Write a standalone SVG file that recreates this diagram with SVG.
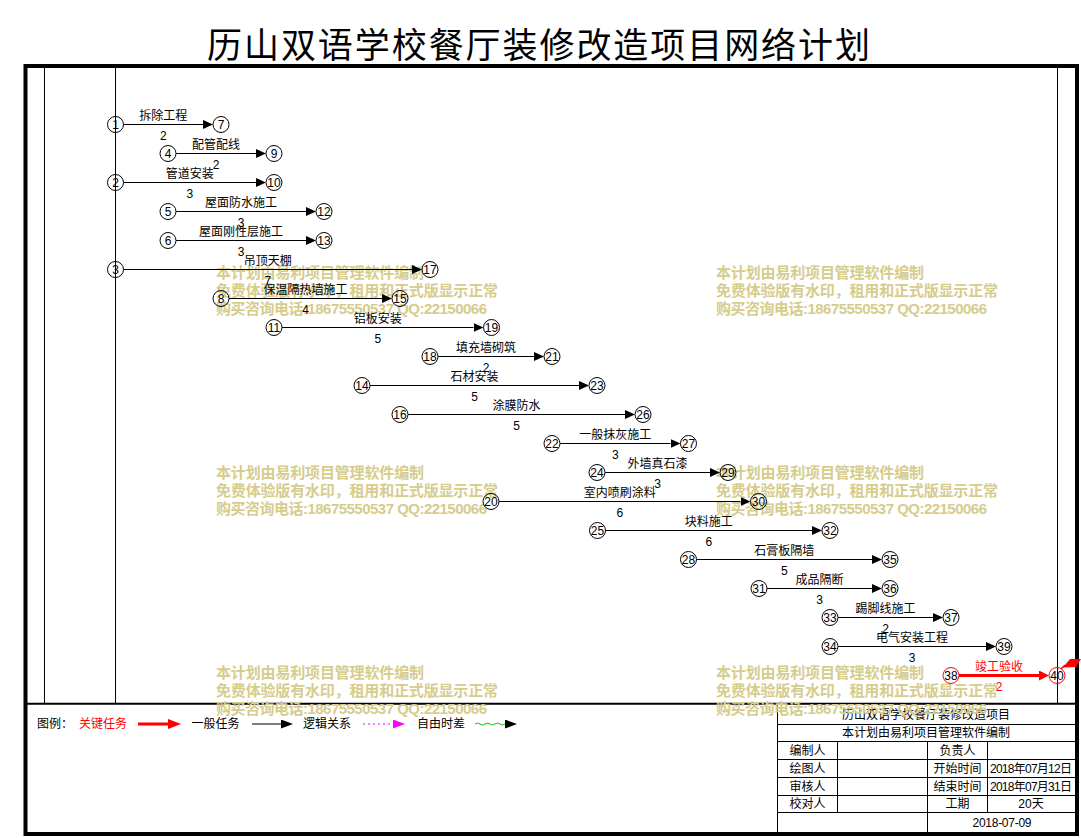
<svg xmlns="http://www.w3.org/2000/svg" width="1081" height="838" viewBox="0 0 1081 838">
<style>
text{font-family:"Liberation Sans","Noto Sans CJK SC",sans-serif;font-size:12px;fill:#000}
.title{font-family:"Noto Sans CJK SC",sans-serif;font-size:35px}
.wm{font-family:"Liberation Sans","Noto Sans CJK SC",sans-serif;font-size:15px;font-weight:bold;fill:#D6CC8C}
.m{text-anchor:middle}
.thin{stroke:#000;stroke-width:1;fill:none}
.node circle{fill:none;stroke:#000;stroke-width:1}
.node text{text-anchor:middle}
.crit circle{stroke:#FF0000}
.edge{stroke:#000;stroke-width:1;fill:none;marker-end:url(#ah)}
.edge-crit{stroke:#FF0000;stroke-width:3;fill:none;marker-end:url(#ahr)}
.red{fill:#FF0000}
</style>
<defs>
<marker id="ah" viewBox="0 0 10 9" refX="0" refY="4.5" markerWidth="10" markerHeight="9" markerUnits="userSpaceOnUse" orient="0"><path d="M0,0 L10,4.5 L0,9 Z" fill="#000"/></marker>
<marker id="ahr" viewBox="0 0 10 10" refX="0" refY="5" markerWidth="10" markerHeight="10" markerUnits="userSpaceOnUse" orient="0"><path d="M0,0 L10,5 L0,10 Z" fill="#FF0000"/></marker>
<marker id="ahl" viewBox="0 0 13 10" refX="0" refY="5" markerWidth="13" markerHeight="10" markerUnits="userSpaceOnUse" orient="0"><path d="M0,0 L13,5 L0,10 Z" fill="#FF0000"/></marker>
<marker id="ahm" viewBox="0 0 12 9" refX="0" refY="4.5" markerWidth="12" markerHeight="9" markerUnits="userSpaceOnUse" orient="0"><path d="M0,0 L12,4.5 L0,9 Z" fill="#FF00FF"/></marker>
<marker id="ahk" viewBox="0 0 12 9" refX="0" refY="4.5" markerWidth="12" markerHeight="9" markerUnits="userSpaceOnUse" orient="0"><path d="M0,0 L12,4.5 L0,9 Z" fill="#000"/></marker>
</defs>
<rect width="1081" height="838" fill="#fff"/>
<text class="title m" x="538.5" y="58" textLength="663">历山双语学校餐厅装修改造项目网络计划</text>

<g id="frame">
<rect x="25.5" y="66" width="1051.5" height="768" fill="none" stroke="#000" stroke-width="4"/>
<line class="thin" x1="44.5" y1="68" x2="44.5" y2="703"/>
<line class="thin" x1="115.5" y1="68" x2="115.5" y2="703"/>
<line class="thin" x1="1057.5" y1="68" x2="1057.5" y2="703"/>
<line x1="27" y1="703.8" x2="1075" y2="703.8" stroke="#000" stroke-width="2"/>
</g>

<g id="legend">
<text x="37" y="727.5">图例：</text>
<text x="79" y="727.5" class="red">关键任务</text>
<line x1="138" y1="724" x2="168" y2="724" stroke="#FF0000" stroke-width="3" marker-end="url(#ahl)"/>
<text x="191.5" y="727.5">一般任务</text>
<line x1="252" y1="724" x2="281" y2="724" stroke="#000" stroke-width="1" marker-end="url(#ahk)"/>
<text x="303" y="727.5">逻辑关系</text>
<line x1="363" y1="724" x2="393" y2="724" stroke="#FF00FF" stroke-width="1" stroke-dasharray="2,3" marker-end="url(#ahm)"/>
<text x="417" y="727.5">自由时差</text>
<path d="M475,724 q2.5,-2 5,0 t5,0 t5,0 t5,0 t5,0 t5,0" fill="none" stroke="#00CC00" stroke-width="1" marker-end="url(#ahk)"/>
</g>

<g id="title-block">
<line class="thin" x1="777.5" y1="704" x2="777.5" y2="832"/>
<line class="thin" x1="777" y1="724.5" x2="1075" y2="724.5"/>
<line class="thin" x1="777" y1="741.5" x2="1075" y2="741.5"/>
<line class="thin" x1="777" y1="759.5" x2="1075" y2="759.5"/>
<line class="thin" x1="777" y1="777.5" x2="1075" y2="777.5"/>
<line class="thin" x1="777" y1="795.5" x2="1075" y2="795.5"/>
<line class="thin" x1="777" y1="812.5" x2="1075" y2="812.5"/>
<line class="thin" x1="837.5" y1="741.5" x2="837.5" y2="812.5"/>
<line class="thin" x1="927.5" y1="741.5" x2="927.5" y2="832"/>
<line class="thin" x1="987.5" y1="741.5" x2="987.5" y2="812.5"/>
<text class="m" x="926" y="718.5">历山双语学校餐厅装修改造项目</text>
<text class="m" x="926" y="737">本计划由易利项目管理软件编制</text>
<text class="m" x="807.5" y="754.5">编制人</text>
<text class="m" x="957.5" y="754.5">负责人</text>
<text class="m" x="807.5" y="772.5">绘图人</text>
<text class="m" x="957.5" y="772.5">开始时间</text>
<text class="m" x="1031" y="772.5" textLength="82">2018年07月12日</text>
<text class="m" x="807.5" y="790.5">审核人</text>
<text class="m" x="957.5" y="790.5">结束时间</text>
<text class="m" x="1031" y="790.5" textLength="82">2018年07月31日</text>
<text class="m" x="807.5" y="808">校对人</text>
<text class="m" x="957.5" y="808">工期</text>
<text class="m" x="1031" y="808">20天</text>
<text class="m" x="1002" y="826.5" textLength="59">2018-07-09</text>
</g>

<g id="watermark">
<text class="wm" x="216" y="278" textLength="208">本计划由易利项目管理软件编制</text>
<text class="wm" x="216" y="296" textLength="282">免费体验版有水印，租用和正式版显示正常</text>
<text class="wm" x="216" y="314" textLength="271">购买咨询电话:18675550537 QQ:22150066</text>
<text class="wm" x="716" y="278" textLength="208">本计划由易利项目管理软件编制</text>
<text class="wm" x="716" y="296" textLength="282">免费体验版有水印，租用和正式版显示正常</text>
<text class="wm" x="716" y="314" textLength="271">购买咨询电话:18675550537 QQ:22150066</text>
<text class="wm" x="216" y="478" textLength="208">本计划由易利项目管理软件编制</text>
<text class="wm" x="216" y="496" textLength="282">免费体验版有水印，租用和正式版显示正常</text>
<text class="wm" x="216" y="514" textLength="271">购买咨询电话:18675550537 QQ:22150066</text>
<text class="wm" x="716" y="478" textLength="208">本计划由易利项目管理软件编制</text>
<text class="wm" x="716" y="496" textLength="282">免费体验版有水印，租用和正式版显示正常</text>
<text class="wm" x="716" y="514" textLength="271">购买咨询电话:18675550537 QQ:22150066</text>
<text class="wm" x="216" y="678" textLength="208">本计划由易利项目管理软件编制</text>
<text class="wm" x="216" y="696" textLength="282">免费体验版有水印，租用和正式版显示正常</text>
<text class="wm" x="216" y="714" textLength="271">购买咨询电话:18675550537 QQ:22150066</text>
<text class="wm" x="716" y="678" textLength="208">本计划由易利项目管理软件编制</text>
<text class="wm" x="716" y="696" textLength="282">免费体验版有水印，租用和正式版显示正常</text>
<text class="wm" x="716" y="714" textLength="271">购买咨询电话:18675550537 QQ:22150066</text>
</g>

<g id="connectors">
<line class="edge" x1="123.5" y1="124.5" x2="203" y2="124.5"/>
<line class="edge" x1="176" y1="153.5" x2="256" y2="153.5"/>
<line class="edge" x1="123.5" y1="182.5" x2="256" y2="182.5"/>
<line class="edge" x1="176" y1="211.5" x2="306" y2="211.5"/>
<line class="edge" x1="176" y1="240.5" x2="306" y2="240.5"/>
<line class="edge" x1="123.5" y1="269.5" x2="412" y2="269.5"/>
<line class="edge" x1="229" y1="298.5" x2="382" y2="298.5"/>
<line class="edge" x1="282" y1="327.5" x2="473.5" y2="327.5"/>
<line class="edge" x1="438" y1="356.5" x2="534" y2="356.5"/>
<line class="edge" x1="370" y1="385.5" x2="579" y2="385.5"/>
<line class="edge" x1="408" y1="414.5" x2="625" y2="414.5"/>
<line class="edge" x1="560" y1="443.5" x2="670.5" y2="443.5"/>
<line class="edge" x1="605" y1="472.5" x2="710" y2="472.5"/>
<line class="edge" x1="499" y1="501.5" x2="740.5" y2="501.5"/>
<line class="edge" x1="605.5" y1="530.5" x2="812" y2="530.5"/>
<line class="edge" x1="696.5" y1="559.5" x2="872" y2="559.5"/>
<line class="edge" x1="767" y1="588.5" x2="872" y2="588.5"/>
<line class="edge" x1="838" y1="617.5" x2="933" y2="617.5"/>
<line class="edge" x1="838" y1="646.5" x2="986" y2="646.5"/>
<line class="edge-crit" x1="959" y1="675.5" x2="1039" y2="675.5"/>
<path d="M1061,669 L1065,665" stroke="#FF0000" stroke-width="1.5" fill="none"/>
<polygon points="1063,667.5 1070,659 1081,659 1076,667" fill="#FF0000"/>
</g>

<g id="edge-labels">
<text class="m" x="163.3" y="119.5">拆除工程</text><text class="m" x="163.3" y="139.5">2</text>
<text class="m" x="216" y="148.5">配管配线</text><text class="m" x="216" y="168.5">2</text>
<text class="m" x="189.8" y="177.5">管道安装</text><text class="m" x="189.8" y="197.5">3</text>
<text class="m" x="241" y="206.5">屋面防水施工</text><text class="m" x="241" y="226.5">3</text>
<text class="m" x="241" y="235.5">屋面刚性层施工</text><text class="m" x="241" y="255.5">3</text>
<text class="m" x="267.8" y="264.5">吊顶天棚</text><text class="m" x="267.8" y="284.5">7</text>
<text class="m" x="305.5" y="293.5">保温隔热墙施工</text><text class="m" x="305.5" y="313.5">4</text>
<text class="m" x="377.8" y="322.5">铝板安装</text><text class="m" x="377.8" y="342.5">5</text>
<text class="m" x="486" y="351.5">填充墙砌筑</text><text class="m" x="486" y="371.5">2</text>
<text class="m" x="474.5" y="380.5">石材安装</text><text class="m" x="474.5" y="400.5">5</text>
<text class="m" x="516.5" y="409.5">涂膜防水</text><text class="m" x="516.5" y="429.5">5</text>
<text class="m" x="615.3" y="438.5">一般抹灰施工</text><text class="m" x="615.3" y="458.5">3</text>
<text class="m" x="657.5" y="467.5">外墙真石漆</text><text class="m" x="657.5" y="487.5">3</text>
<text class="m" x="619.8" y="496.5">室内喷刷涂料</text><text class="m" x="619.8" y="516.5">6</text>
<text class="m" x="708.8" y="525.5">块料施工</text><text class="m" x="708.8" y="545.5">6</text>
<text class="m" x="784.3" y="554.5">石膏板隔墙</text><text class="m" x="784.3" y="574.5">5</text>
<text class="m" x="819.5" y="583.5">成品隔断</text><text class="m" x="819.5" y="603.5">3</text>
<text class="m" x="885.5" y="612.5">踢脚线施工</text><text class="m" x="885.5" y="632.5">2</text>
<text class="m" x="912" y="641.5">电气安装工程</text><text class="m" x="912" y="661.5">3</text>
<text class="m red" x="999" y="670.5">竣工验收</text><text class="m red" x="999" y="690.5">2</text>
</g>

<g id="node-1" class="node"><circle cx="115.5" cy="124.5" r="8"/><text x="115.5" y="128.8">1</text></g>
<g id="node-7" class="node"><circle cx="221" cy="124.5" r="8"/><text x="221" y="128.8">7</text></g>
<g id="node-4" class="node"><circle cx="168" cy="153.5" r="8"/><text x="168" y="157.8">4</text></g>
<g id="node-9" class="node"><circle cx="274" cy="153.5" r="8"/><text x="274" y="157.8">9</text></g>
<g id="node-2" class="node"><circle cx="115.5" cy="182.5" r="8"/><text x="115.5" y="186.8">2</text></g>
<g id="node-10" class="node"><circle cx="274" cy="182.5" r="8"/><text x="274" y="186.8">10</text></g>
<g id="node-5" class="node"><circle cx="168" cy="211.5" r="8"/><text x="168" y="215.8">5</text></g>
<g id="node-12" class="node"><circle cx="324" cy="211.5" r="8"/><text x="324" y="215.8">12</text></g>
<g id="node-6" class="node"><circle cx="168" cy="240.5" r="8"/><text x="168" y="244.8">6</text></g>
<g id="node-13" class="node"><circle cx="324" cy="240.5" r="8"/><text x="324" y="244.8">13</text></g>
<g id="node-3" class="node"><circle cx="115.5" cy="269.5" r="8"/><text x="115.5" y="273.8">3</text></g>
<g id="node-17" class="node"><circle cx="430" cy="269.5" r="8"/><text x="430" y="273.8">17</text></g>
<g id="node-8" class="node"><circle cx="221" cy="298.5" r="8"/><text x="221" y="302.8">8</text></g>
<g id="node-15" class="node"><circle cx="400" cy="298.5" r="8"/><text x="400" y="302.8">15</text></g>
<g id="node-11" class="node"><circle cx="274" cy="327.5" r="8"/><text x="274" y="331.8">11</text></g>
<g id="node-19" class="node"><circle cx="491.5" cy="327.5" r="8"/><text x="491.5" y="331.8">19</text></g>
<g id="node-18" class="node"><circle cx="430" cy="356.5" r="8"/><text x="430" y="360.8">18</text></g>
<g id="node-21" class="node"><circle cx="552" cy="356.5" r="8"/><text x="552" y="360.8">21</text></g>
<g id="node-14" class="node"><circle cx="362" cy="385.5" r="8"/><text x="362" y="389.8">14</text></g>
<g id="node-23" class="node"><circle cx="597" cy="385.5" r="8"/><text x="597" y="389.8">23</text></g>
<g id="node-16" class="node"><circle cx="400" cy="414.5" r="8"/><text x="400" y="418.8">16</text></g>
<g id="node-26" class="node"><circle cx="643" cy="414.5" r="8"/><text x="643" y="418.8">26</text></g>
<g id="node-22" class="node"><circle cx="552" cy="443.5" r="8"/><text x="552" y="447.8">22</text></g>
<g id="node-27" class="node"><circle cx="688.5" cy="443.5" r="8"/><text x="688.5" y="447.8">27</text></g>
<g id="node-24" class="node"><circle cx="597" cy="472.5" r="8"/><text x="597" y="476.8">24</text></g>
<g id="node-29" class="node"><circle cx="728" cy="472.5" r="8"/><text x="728" y="476.8">29</text></g>
<g id="node-20" class="node"><circle cx="491" cy="501.5" r="8"/><text x="491" y="505.8">20</text></g>
<g id="node-30" class="node"><circle cx="758.5" cy="501.5" r="8"/><text x="758.5" y="505.8">30</text></g>
<g id="node-25" class="node"><circle cx="597.5" cy="530.5" r="8"/><text x="597.5" y="534.8">25</text></g>
<g id="node-32" class="node"><circle cx="830" cy="530.5" r="8"/><text x="830" y="534.8">32</text></g>
<g id="node-28" class="node"><circle cx="688.5" cy="559.5" r="8"/><text x="688.5" y="563.8">28</text></g>
<g id="node-35" class="node"><circle cx="890" cy="559.5" r="8"/><text x="890" y="563.8">35</text></g>
<g id="node-31" class="node"><circle cx="759" cy="588.5" r="8"/><text x="759" y="592.8">31</text></g>
<g id="node-36" class="node"><circle cx="890" cy="588.5" r="8"/><text x="890" y="592.8">36</text></g>
<g id="node-33" class="node"><circle cx="830" cy="617.5" r="8"/><text x="830" y="621.8">33</text></g>
<g id="node-37" class="node"><circle cx="951" cy="617.5" r="8"/><text x="951" y="621.8">37</text></g>
<g id="node-34" class="node"><circle cx="830" cy="646.5" r="8"/><text x="830" y="650.8">34</text></g>
<g id="node-39" class="node"><circle cx="1004" cy="646.5" r="8"/><text x="1004" y="650.8">39</text></g>
<g id="node-38" class="node crit"><circle cx="951" cy="675.5" r="8"/><text x="951" y="679.8">38</text></g>
<g id="node-40" class="node crit"><circle cx="1057" cy="675.5" r="8"/><text x="1057" y="679.8">40</text></g>
</svg>
